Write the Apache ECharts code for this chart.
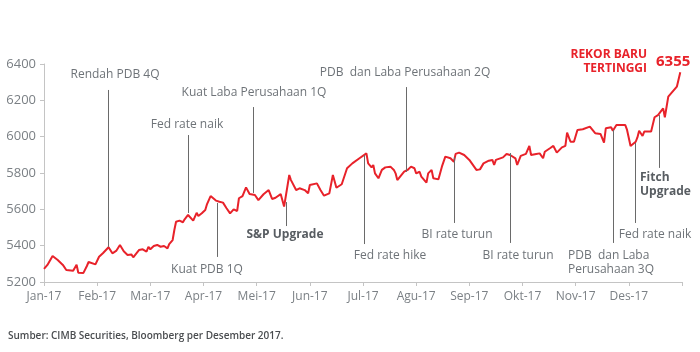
<!DOCTYPE html>
<html>
<head>
<meta charset="utf-8">
<script src="https://cdn.jsdelivr.net/npm/echarts@6/dist/echarts.min.js"></script>
<style>
  html, body { margin: 0; padding: 0; background: #fff; }
  #chart { width: 700px; height: 352px; }
</style>
</head>
<body>
<div id="chart"></div>
<script>
// label bulan sumbu x
const months = ['Jan-17', 'Feb-17', 'Mar-17', 'Apr-17', 'Mei-17', 'Jun-17',
    'Jul-17', 'Agu-17', 'Sep-17', 'Okt-17', 'Nov-17', 'Des-17'];
const daysInMonth = [31, 28, 31, 30, 31, 30, 31, 31, 30, 31, 30, 31];
const yTicks = [5200, 5400, 5600, 5800, 6000, 6200, 6400];

// IHSG 2017 (perkiraan dari gambar), tanggal MM-DD
const dates = [
    '01-01', '01-03', '01-06', '01-09', '01-12', '01-14', '01-18', '01-20', '01-21', '01-24', '01-26', '01-27', '01-31',
    '02-02', '02-04', '02-07', '02-09', '02-11', '02-13', '02-15', '02-17', '02-19', '02-20', '02-23', '02-25', '02-27', '02-28',
    '03-01', '03-03', '03-05', '03-07', '03-09', '03-11', '03-12', '03-14', '03-15', '03-16', '03-18', '03-20', '03-21', '03-23',
    '03-24', '03-26', '03-28', '03-29', '03-31',
    '04-02', '04-03', '04-05', '04-06', '04-08', '04-10', '04-11', '04-12', '04-14', '04-16', '04-18', '04-20', '04-21', '04-23',
    '04-25', '04-27', '04-30',
    '05-02', '05-05', '05-08', '05-10', '05-12', '05-15', '05-17', '05-18', '05-20', '05-21', '05-24', '05-26', '05-29', '05-31',
    '06-01', '06-05', '06-07', '06-09', '06-12', '06-14', '06-16', '06-19', '06-22', '06-25', '06-29',
    '07-03', '07-04', '07-06', '07-07', '07-08', '07-10', '07-12', '07-14', '07-17', '07-19', '07-20', '07-21', '07-23', '07-25',
    '07-27', '07-29', '07-31',
    '08-01', '08-03', '08-04', '08-07', '08-08', '08-10', '08-11', '08-14', '08-16', '08-18', '08-21', '08-23', '08-24', '08-26', '08-29',
    '09-01', '09-05', '09-07', '09-09', '09-12', '09-14', '09-15', '09-16', '09-20', '09-22', '09-24', '09-27', '09-28', '09-30',
    '10-03', '10-05', '10-06', '10-09', '10-11', '10-13', '10-14', '10-17', '10-19', '10-21', '10-24', '10-26', '10-27', '10-29', '10-31',
    '11-02', '11-05', '11-09', '11-12', '11-15', '11-17', '11-18', '11-21', '11-22', '11-24', '11-29', '11-30',
    '12-02', '12-05', '12-06', '12-07', '12-09', '12-10', '12-14', '12-16', '12-18', '12-19', '12-21', '12-22', '12-24', '12-29', '12-31'
];
const values = [
    5272, 5294, 5343, 5321, 5294, 5266, 5262, 5295, 5251, 5250, 5288, 5310, 5297,
    5339, 5358, 5391, 5358, 5371, 5404, 5369, 5349, 5352, 5336, 5376, 5380, 5367, 5394,
    5380, 5398, 5404, 5394, 5398, 5385, 5409, 5431, 5486, 5532, 5538, 5529, 5545, 5569,
    5560, 5538, 5581, 5563, 5578,
    5596, 5629, 5673, 5679, 5648, 5642, 5633, 5637, 5606, 5578, 5600, 5591, 5661, 5673,
    5721, 5684, 5679,
    5651, 5683, 5706, 5657, 5664, 5684, 5615, 5609, 5789, 5761, 5706, 5716, 5706, 5688,
    5734, 5743, 5706, 5675, 5688, 5789, 5719, 5738, 5826, 5853, 5881,
    5908, 5853, 5831, 5844, 5798, 5771, 5817, 5831, 5835, 5817, 5798, 5761, 5784, 5807,
    5817, 5835, 5826,
    5798, 5807, 5780, 5747, 5798, 5817, 5771, 5765, 5835, 5890, 5881, 5862, 5905, 5912, 5899,
    5872, 5817, 5820, 5853, 5868, 5872, 5844, 5872, 5886, 5905, 5899, 5881, 5844, 5894,
    5905, 5949, 5899, 5905, 5908, 5881, 5917, 5936, 5949, 5912, 5941, 5949, 6022, 5972, 5972,
    6037, 6041, 6055, 6019, 6015, 5967, 6046, 6052, 6033, 6064, 6064, 6037,
    5949, 5972, 5996, 6033, 6004, 6028, 6028, 6107, 6119, 6128, 6156, 6107, 6220, 6275, 6355
];

// peristiwa
const eventDates = ['02-07', '03-23', '04-29', '04-09', '05-18', '07-02', '07-26', '08-23', '09-24', '11-22', '12-05', '12-19'];
const eventLabels = ['Rendah PDB 4Q', 'Fed rate naik', 'Kuat Laba Perusahaan 1Q', 'Kuat PDB 1Q', 'S&P Upgrade',
    'Fed rate hike', 'PDB  dan Laba Perusahaan 2Q', 'BI rate turun', 'BI rate turun',
    'PDB  dan Laba\nPerusahaan 3Q', 'Fed rate naik', 'Fitch\nUpgrade'];

// posisi garis (nilai ujung atas/bawah) dan teks (px)
const eventLayout = [
    { top: 6257, bottom: 5393, x: 115, y: 75 },
    { top: 6009, bottom: 5580, x: 187, y: 125 },
    { top: 6163, bottom: 5690, x: 254, y: 93 },
    { top: 5635, bottom: 5338, x: 207, y: 270 },
    { top: 5640, bottom: 5508, x: 285, y: 235, bold: true },
    { top: 5899, bottom: 5409, x: 390, y: 256 },
    { top: 6273, bottom: 5806, x: 405, y: 73 },
    { top: 5888, bottom: 5525, x: 457, y: 235 },
    { top: 5910, bottom: 5415, x: 518, y: 256 },
    { top: 6037, bottom: 5415, x: 568, y: 263, align: 'left' },
    { top: 5965, bottom: 5525, x: 655, y: 235 },
    { top: 6119, bottom: 5828, x: 640, y: 185, align: 'left', bold: true }
];

const monthPos = (s) => {
    const [m, d] = s.split('-').map(Number);
    return (m - 1) + (d - 1) / daysInMonth[m - 1];
};

const seriesData = dates.map((d, i) => [monthPos(d), values[i]]);

const eventLines = eventDates.map((d, i) => {
    const x = monthPos(d);
    return [{ coord: [x, eventLayout[i].top] }, { coord: [x, eventLayout[i].bottom] }];
});

const eventTexts = eventLabels.map((t, i) => {
    const l = eventLayout[i];
    return {
        type: 'text',
        x: l.x,
        y: l.y,
        style: {
            text: t,
            align: l.align || 'center',
            verticalAlign: 'middle',
            fontFamily: 'Open Sans',
            fontSize: 12,
            fontWeight: l.bold ? 'bold' : 'normal',
            fill: l.bold ? '#585d62' : '#6e7378',
            lineHeight: 14
        }
    };
});

const chart = echarts.init(document.getElementById('chart'), null, { renderer: 'canvas' });

chart.setOption({
    animation: false,
    grid: { left: 44, right: 18, top: 64, bottom: 70 },
    xAxis: {
        type: 'value',
        min: 0,
        max: 12,
        interval: 1,
        splitLine: { show: false },
        axisLine: { lineStyle: { color: '#c4c4c4', width: 1 } },
        axisTick: { show: true, length: 4, lineStyle: { color: '#c4c4c4' } },
        axisLabel: {
            color: '#7b8085',
            fontFamily: 'Open Sans',
            fontSize: 12,
            margin: 9,
            formatter: (v) => months[v] || ''
        }
    },
    yAxis: {
        type: 'value',
        min: yTicks[0],
        max: yTicks[yTicks.length - 1],
        interval: 200,
        splitLine: { show: false },
        axisLine: { show: true, lineStyle: { color: '#c4c4c4', width: 1 } },
        axisTick: { show: true, length: 4, lineStyle: { color: '#c4c4c4' } },
        axisLabel: {
            color: '#7b8085',
            fontFamily: 'Open Sans',
            fontSize: 13,
            margin: 8,
            formatter: (v) => String(v)
        }
    },
    series: [{
        type: 'line',
        data: seriesData,
        showSymbol: false,
        lineStyle: { color: '#e8222a', width: 2 },
        z: 3,
        markLine: {
            silent: true,
            symbol: ['none', 'none'],
            label: { show: false },
            lineStyle: { color: '#6a6a6a', width: 1, type: 'solid' },
            emphasis: { disabled: true },
            data: eventLines
        }
    }],
    graphic: eventTexts.concat([
        {
            type: 'text',
            x: 647,
            y: 62,
            style: {
                text: 'REKOR BARU\nTERTINGGI',
                align: 'right',
                verticalAlign: 'middle',
                fontFamily: 'Open Sans',
                fontSize: 12,
                fontWeight: 'bold',
                fill: '#e8222a',
                lineHeight: 14
            }
        },
        {
            type: 'text',
            x: 656,
            y: 62,
            style: {
                text: '6355',
                align: 'left',
                verticalAlign: 'middle',
                fontFamily: 'Open Sans',
                fontSize: 15,
                fontWeight: 'bold',
                fill: '#e8222a'
            }
        },
        {
            type: 'text',
            x: 8,
            y: 336,
            style: {
                text: 'Sumber: CIMB Securities, Bloomberg per Desember 2017.',
                align: 'left',
                verticalAlign: 'middle',
                fontFamily: 'Open Sans',
                fontSize: 10,
                fontWeight: 600,
                fill: '#4a4d50'
            }
        }
    ])
});
</script>
</body>
</html>
